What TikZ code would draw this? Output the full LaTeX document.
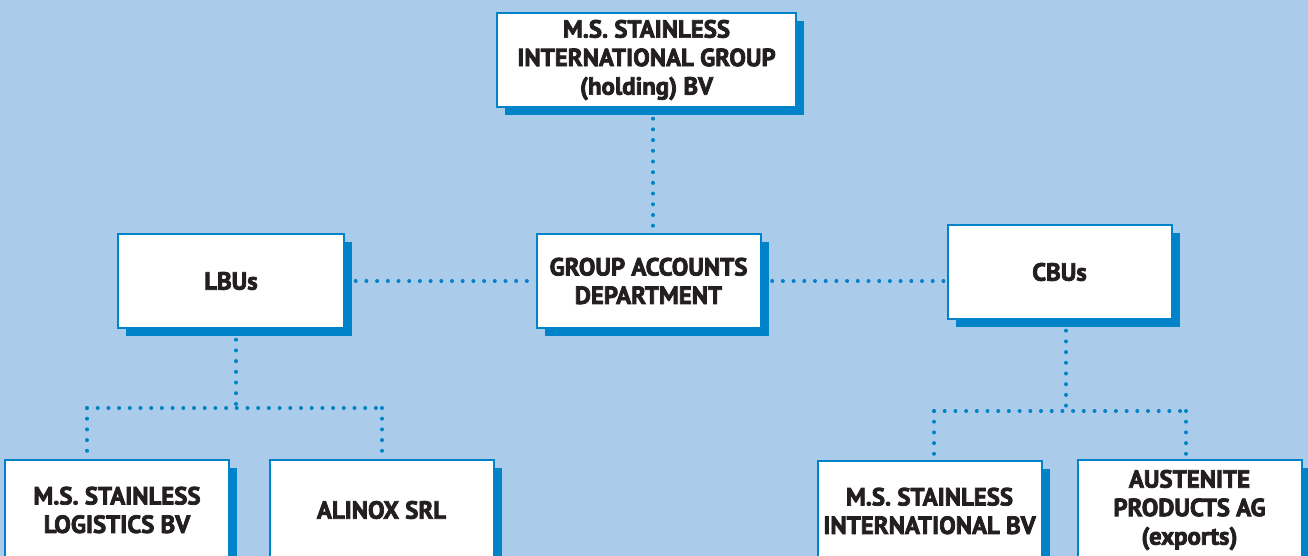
\documentclass[tikz,border=0pt]{standalone}
\usepackage{fontspec}
\setmainfont{PT Sans}[BoldFeatures={FakeBold=3}]
\usepackage{xcolor}
\usetikzlibrary{shadows,backgrounds,decorations.markings}
\definecolor{bgblue}{RGB}{170,203,234}
\definecolor{msblue}{RGB}{0,131,201}
\definecolor{inkblack}{RGB}{35,31,32}

\begin{document}
\begin{tikzpicture}[x=0.5pt, y=-0.5pt,
	box/.style={draw=msblue, line width=1pt, fill=white, inner sep=0pt,
		minimum width=112pt, minimum height=47pt, align=center, text=inkblack,
		font=\bfseries\fontsize{12.4}{14.25}\selectfont,
		drop shadow={shadow xshift=4pt, shadow yshift=-4pt, fill=msblue, opacity=1}},
	dotline/.style={draw=none, postaction={decorate, decoration={markings,
		mark=between positions 0 and 1 step 5.35pt with {\fill[msblue] (0,0) circle (1pt);}}}}]
	\useasboundingbox (0,0) rectangle (1308,556);
	%Nodes
	\node[box, minimum width=149.5pt] (hold) at (646.5,60) {M.S. STAINLESS\\INTERNATIONAL GROUP\\(holding) BV};
	\node[box] (acc) at (648.5,281) {GROUP ACCOUNTS\\DEPARTMENT};
	\node[box, minimum width=113pt] (lbus) at (231,281) {LBUs};
	\node[box] (cbus) at (1059.5,272) {CBUs};
	\node[box, minimum height=50pt] (logi) at (117,510) {M.S. STAINLESS\\LOGISTICS BV};
	\node[box, minimum height=50pt] (alin) at (381.5,510) {ALINOX SRL};
	\node[box, minimum height=50pt] (msintl) at (929.5,511) {M.S. STAINLESS\\INTERNATIONAL BV};
	\node[box, minimum height=50pt] (aust) at (1189.5,510) {AUSTENITE\\PRODUCTS AG\\(exports)};
	\coordinate (lbar) at (236,408);
	\coordinate (lbarL) at (87,408);
	\coordinate (lbarR) at (382,408);
	\coordinate (cbar) at (1066,411);
	\coordinate (cbarL) at (934,411);
	\coordinate (cbarR) at (1186,411);
	% Connectors
	\begin{scope}[on background layer]
		\fill[bgblue] (0,0) rectangle (1308,556);
		\draw[dotline] ([xshift=3.25pt]hold.south) -- ([xshift=3.25pt]hold.south |- acc.north);
		\draw[dotline] (lbus.east) -- (acc.west);
		\draw[dotline] (acc.east) -- (acc.east -| cbus.west);
		\draw[dotline] (lbus.south -| lbar) -- (lbar);
		\draw[dotline] (lbarL) -- (lbarR);
		\draw[dotline] (lbarL) -- (lbarL |- logi.north);
		\draw[dotline] (lbarR) -- (lbarR |- alin.north);
		\draw[dotline] (cbus.south -| cbar) -- (cbar);
		\draw[dotline] (cbarL) -- (cbarR);
		\draw[dotline] (cbarL) -- (cbarL |- msintl.north);
		\draw[dotline] (cbarR) -- (cbarR |- aust.north);
	\end{scope}
\end{tikzpicture}
\end{document}
